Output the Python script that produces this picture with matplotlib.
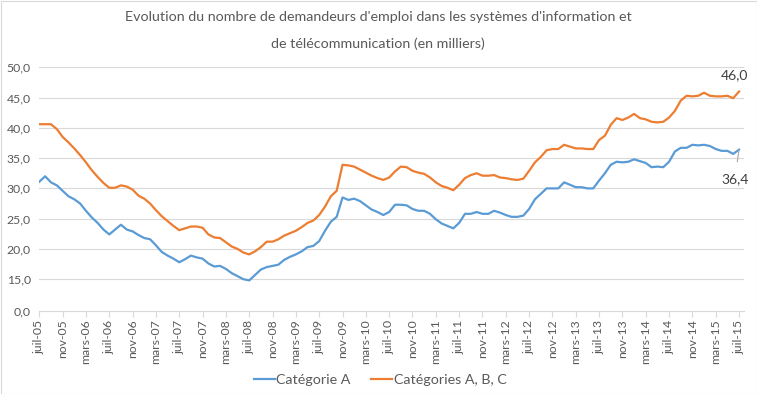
import matplotlib
matplotlib.use("Agg")
import matplotlib.pyplot as plt
from matplotlib.patches import Rectangle

plt.rcParams['font.family'] = ['Lato', 'DejaVu Sans']

# Monthly data, juil-05 .. juil-15 (121 months)
months_fr = ['janv', 'févr', 'mars', 'avr', 'mai', 'juin', 'juil', 'août', 'sept', 'oct', 'nov', 'déc']

cat_a = [
    31.1, 32.0, 31.0, 30.5, 29.6, 28.7, 28.2, 27.5, 26.3, 25.2,
    24.3, 23.2, 22.4, 23.2, 24.0, 23.2, 22.9, 22.3, 21.8, 21.6,
    20.6, 19.5, 18.9, 18.4, 17.8, 18.3, 18.9, 18.6, 18.4, 17.6,
    17.1, 17.2, 16.7, 16.0, 15.5, 15.0, 14.8, 15.7, 16.6, 17.0,
    17.2, 17.4, 18.2, 18.7, 19.1, 19.6, 20.3, 20.5, 21.3, 23.0,
    24.5, 25.3, 28.5, 28.1, 28.3, 27.9, 27.2, 26.5, 26.1, 25.6,
    26.1, 27.3, 27.3, 27.2, 26.6, 26.3, 26.3, 25.8, 24.9, 24.2,
    23.8, 23.4, 24.3, 25.8, 25.8, 26.1, 25.8, 25.8, 26.3, 26.0,
    25.6, 25.3, 25.3, 25.5, 26.6, 28.2, 29.1, 30.0, 30.0, 30.0,
    31.0, 30.6, 30.2, 30.2, 30.0, 30.0, 31.3, 32.5, 33.9, 34.4,
    34.3, 34.4, 34.8, 34.5, 34.2, 33.5, 33.6, 33.5, 34.4, 36.1,
    36.7, 36.7, 37.2, 37.1, 37.2, 37.0, 36.5, 36.2, 36.2, 35.7,
    36.4,
]

cat_abc = [
    40.6, 40.6, 40.6, 39.8, 38.5, 37.6, 36.6, 35.5, 34.3, 33.0,
    31.9, 30.9, 30.1, 30.1, 30.5, 30.3, 29.8, 28.8, 28.3, 27.5,
    26.4, 25.4, 24.6, 23.8, 23.1, 23.4, 23.7, 23.7, 23.5, 22.4,
    21.9, 21.8, 21.1, 20.4, 20.0, 19.4, 19.1, 19.6, 20.3, 21.2,
    21.2, 21.6, 22.2, 22.6, 23.0, 23.6, 24.3, 24.7, 25.6, 27.0,
    28.7, 29.6, 33.9, 33.8, 33.6, 33.1, 32.6, 32.1, 31.7, 31.4,
    31.8, 32.8, 33.6, 33.5, 32.9, 32.6, 32.4, 31.8, 31.0, 30.4,
    30.1, 29.7, 30.6, 31.7, 32.2, 32.5, 32.1, 32.1, 32.2, 31.8,
    31.7, 31.5, 31.4, 31.6, 32.9, 34.3, 35.2, 36.3, 36.5, 36.5,
    37.2, 36.9, 36.6, 36.6, 36.5, 36.5, 38.0, 38.7, 40.5, 41.6,
    41.3, 41.7, 42.3, 41.6, 41.4, 41.0, 40.9, 41.0, 41.7, 42.8,
    44.5, 45.3, 45.2, 45.3, 45.8, 45.3, 45.2, 45.2, 45.3, 44.9,
    46.0,
]

# Month labels
labels = []
m, y = 6, 5  # juil-05
for _ in range(len(cat_a)):
    labels.append(f"{months_fr[m]}-{y:02d}")
    m += 1
    if m == 12:
        m = 0
        y += 1

ytick_vals = [9.7, 15, 20, 25, 30, 35, 40, 45, 50]
ytick_labels = ['0,0', '15,0', '20,0', '25,0', '30,0', '35,0', '40,0', '45,0', '50,0']

W, H = 757, 394
fig = plt.figure(figsize=(W / 100, H / 100), dpi=100)
fig.patches.append(Rectangle((0.5 / W, 0.5 / H), 1 - 1.0 / W, 1 - 1.0 / H,
                             transform=fig.transFigure, fill=False,
                             edgecolor='#D9D9D9', lw=0.8))

ax = fig.add_axes([39.3 / W, 1 - 311.3 / H, (744 - 39.3) / W, (311.3 - 67.3) / H])

x = list(range(len(cat_a)))
blue = '#5B9BD5'
orange = '#ED7D31'
ax.plot(x, cat_a, color=blue, lw=1.6, label='Catégorie A', solid_joinstyle='round')
ax.plot(x, cat_abc, color=orange, lw=1.6, label='Catégories A, B, C', solid_joinstyle='round')

ax.set_xlim(0, 120.85)
ax.set_ylim(9.7, 50)
ax.set_yticks(ytick_vals)
ax.set_yticklabels(ytick_labels)
for v in ytick_vals[1:]:
    ax.axhline(v, color='#D9D9D9', lw=0.8, zorder=0)

tick_pos = x[::4]
ax.set_xticks(tick_pos)
ax.set_xticklabels([labels[i] for i in tick_pos], rotation=90)

for s in ['top', 'right', 'left']:
    ax.spines[s].set_visible(False)
ax.spines['bottom'].set_color('#D9D9D9')
ax.spines['bottom'].set_linewidth(0.8)
ax.tick_params(axis='y', length=0, pad=6, labelsize=8.8, labelcolor='#595959')
ax.tick_params(axis='x', length=4, width=0.8, color='#D9D9D9', pad=2,
               labelsize=8.8, labelcolor='#595959')

# Data labels for last points
ax.annotate('46,0', xy=(120, cat_abc[-1]), xytext=(-3, 12), textcoords='offset points',
            ha='center', va='center', fontsize=10, color='#404040')
ax.annotate('36,4', xy=(120, cat_a[-1]), xytext=(-3, -21), textcoords='offset points',
            ha='center', va='center', fontsize=10, color='#404040',
            arrowprops=dict(arrowstyle='-', color='#A6A6A6', lw=0.8,
                            shrinkA=6, shrinkB=0))

fig.text(378 / W, 1 - 17 / H,
         "Evolution du nombre de demandeurs d'emploi dans les systèmes d'information et",
         ha='center', va='center', fontsize=10.3, color='#595959')
fig.text(378 / W, 1 - 44 / H, "de télécommunication (en milliers)",
         ha='center', va='center', fontsize=10.3, color='#595959')

fig.legend(loc='center', bbox_to_anchor=(380 / W, 1 - 380 / H), ncol=2, frameon=False,
           fontsize=10.3, handlelength=1.5, handletextpad=0.1, columnspacing=1.4,
           labelcolor='#595959')

fig.savefig('out.png', dpi=100)
